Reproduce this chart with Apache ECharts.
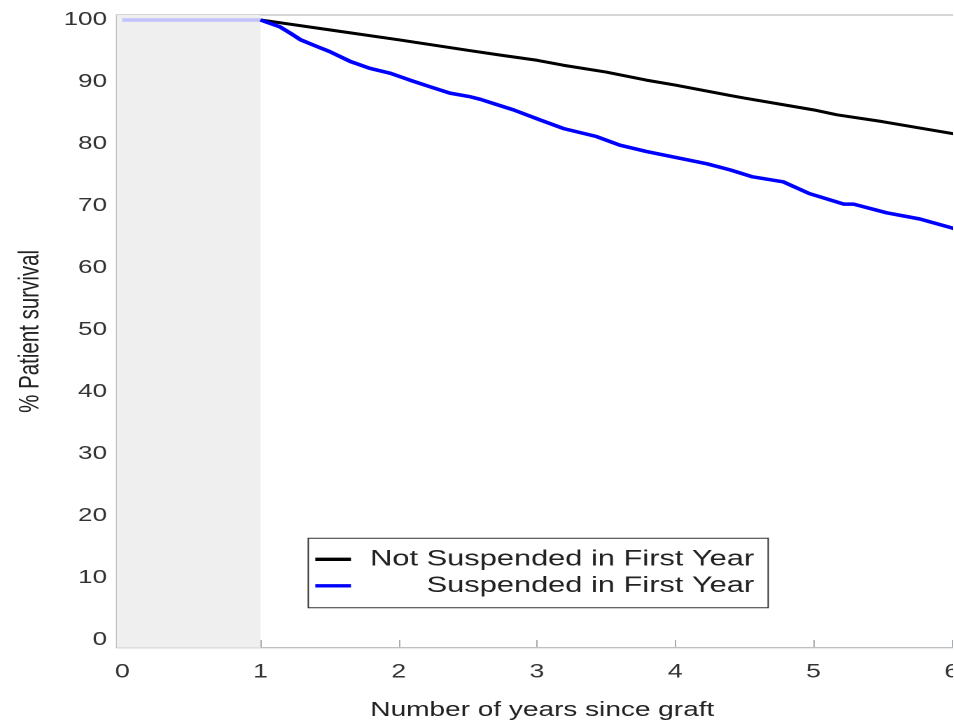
<!DOCTYPE html>
<html>
<head>
<meta charset="utf-8">
<script src="https://cdn.jsdelivr.net/npm/echarts@6/dist/echarts.min.js"></script>
<style>
html,body{margin:0;padding:0;background:#fff;overflow:hidden;width:954px;height:721px;}
#wrap{width:954px;height:721px;overflow:hidden;position:relative;}
#chart{position:absolute;left:0;top:0;width:681.43px;height:721px;transform:scaleX(1.4);transform-origin:0 0;}
</style>
</head>
<body>
<div id="wrap"><div id="chart"></div></div>
<script>
// ---- data ----
const seriesNames = ['Not Suspended in First Year', 'Suspended in First Year'];
const xTicks = [0, 1, 2, 3, 4, 5, 6];
const yTicks = [0, 10, 20, 30, 40, 50, 60, 70, 80, 90, 100];
const notSuspendedYears = [1.0, 1.5, 2.0, 2.5, 2.73, 3.0, 3.19, 3.5, 3.79, 4.0, 4.4, 4.5, 5.0, 5.17, 5.5, 6.0, 6.03];
const notSuspendedSurv  = [100, 98.4, 96.8, 95.1, 94.35, 93.5, 92.7, 91.6, 90.3, 89.5, 87.8, 87.4, 85.5, 84.7, 83.6, 81.7, 81.6];
const suspendedYears = [1.0, 1.05, 1.14, 1.22, 1.29, 1.41, 1.5, 1.65, 1.79, 1.94, 2.08, 2.23, 2.37, 2.52, 2.59, 2.73, 2.83, 3.02, 3.19, 3.43, 3.60, 3.79, 4.03, 4.23, 4.40, 4.56, 4.78, 4.97, 5.22, 5.29, 5.53, 5.77, 6.01, 6.03];
const suspendedSurv  = [100, 99.6, 98.9, 97.8, 96.8, 95.7, 94.9, 93.3, 92.2, 91.4, 90.3, 89.2, 88.2, 87.6, 87.2, 86.2, 85.5, 83.9, 82.5, 81.2, 79.8, 78.8, 77.7, 76.8, 75.8, 74.7, 73.9, 72.0, 70.3, 70.3, 68.9, 67.9, 66.4, 66.2];
const firstYearYears = [0, 1];
const firstYearSurv  = [100, 100];
const shadedYears = [-0.0405, 1];

const pair = (xs, ys) => xs.map((x, i) => [x, ys[i]]);
const FONT = "'Liberation Sans', Arial, sans-serif";
const axisGray = '#a8acb0';

const chart = echarts.init(document.getElementById('chart'), null, {renderer: 'canvas', devicePixelRatio: 2});
chart.setOption({
  animation: false,
  backgroundColor: '#fff',
  textStyle: {fontFamily: FONT},
  grid: {
    left: 83.36, top: 15, width: 608, height: 632.7,
    outerBoundsMode: 'none', containLabel: false,
    show: true, borderColor: axisGray, borderWidth: 1, backgroundColor: 'transparent'
  },
  legend: {
    orient: 'vertical',
    left: 220.2, top: 538.3,
    padding: [10, 10, 11, 5],
    itemGap: 4.5,
    itemWidth: 25.5, itemHeight: 3.3,
    borderColor: '#333', borderWidth: 1,
    icon: 'rect',
    data: seriesNames,
    formatter: '{a|{name}}',
    textStyle: {
      fontFamily: FONT, fontSize: 22, color: '#222', padding: [0, 0, 0, 6],
      rich: {a: {width: 277, align: 'right', fontSize: 22, lineHeight: 23, fontFamily: FONT, color: '#222'}}
    }
  },
  xAxis: {
    type: 'value', min: -0.0405, max: 6.1175,
    axisLine: {show: false},
    splitLine: {show: false},
    axisTick: {show: true, length: 7, customValues: xTicks, lineStyle: {color: axisGray}},
    axisLabel: {customValues: xTicks, fontSize: 19, color: '#333', margin: 15, fontFamily: FONT},
    name: 'Number of years since graft', nameLocation: 'middle', nameGap: 53,
    nameTextStyle: {fontSize: 20, color: '#222', fontFamily: FONT}
  },
  yAxis: {
    type: 'value', min: -1.24, max: 100.8,
    axisLine: {show: false},
    splitLine: {show: false},
    axisTick: {show: true, length: 3.6, customValues: yTicks, lineStyle: {color: axisGray}},
    axisLabel: {customValues: yTicks, fontSize: 18.5, color: '#333', margin: 7, fontFamily: FONT},
    name: '% Patient survival', nameLocation: 'middle', nameGap: 51,
    nameTextStyle: {fontSize: 20.5, color: '#222', fontFamily: FONT}
  },
  series: [
    {
      name: 'first-year', type: 'line', showSymbol: false, silent: true,
      data: pair(firstYearYears, firstYearSurv),
      lineStyle: {color: '#c2c2ff', width: 3.5},
      z: 2,
      markArea: {
        silent: true,
        itemStyle: {color: '#efefef'},
        data: [[{xAxis: shadedYears[0]}, {xAxis: shadedYears[1]}]]
      }
    },
    {
      name: seriesNames[0], type: 'line', showSymbol: false,
      data: pair(notSuspendedYears, notSuspendedSurv),
      color: '#000', lineStyle: {color: '#000', width: 3}, z: 3
    },
    {
      name: seriesNames[1], type: 'line', showSymbol: false,
      data: pair(suspendedYears, suspendedSurv),
      color: '#0000ff', lineStyle: {color: '#0000ff', width: 3.5}, z: 4
    }
  ]
});
</script>
</body>
</html>
